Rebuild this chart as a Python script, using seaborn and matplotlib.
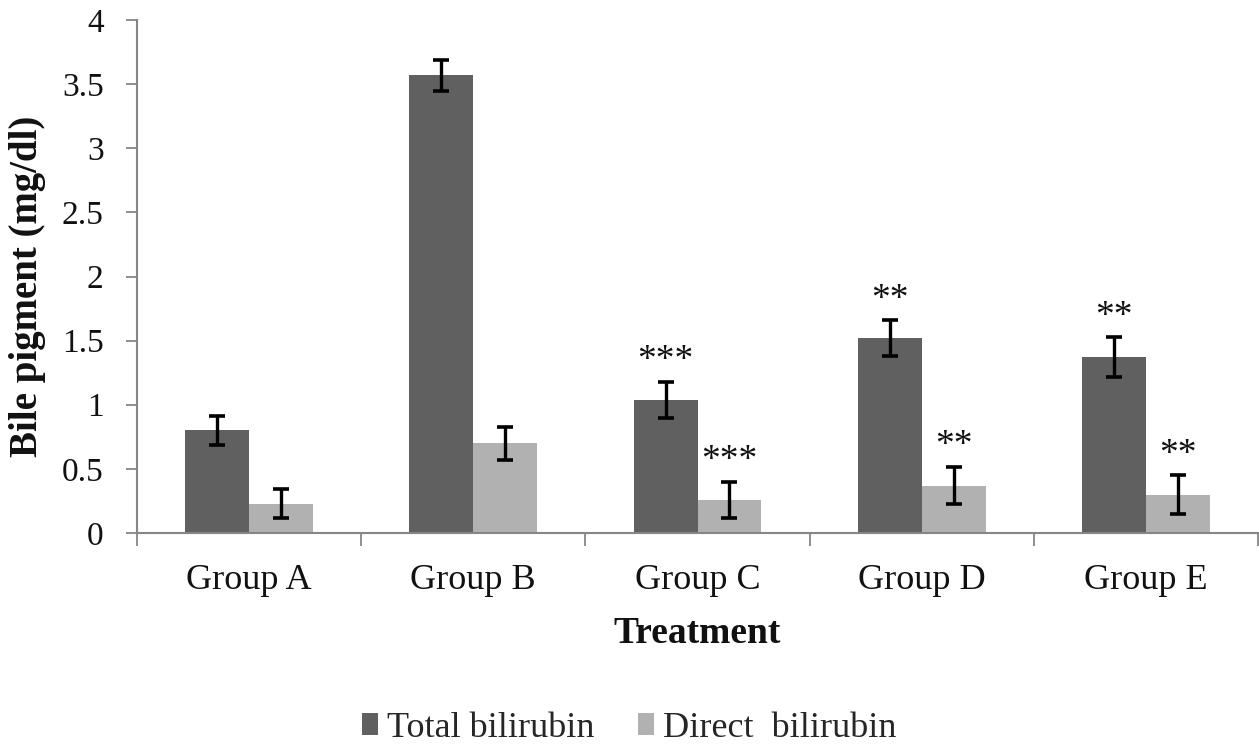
import numpy as np
import pandas as pd
import matplotlib
matplotlib.use("Agg")
import matplotlib.pyplot as plt
import seaborn as sns

# ---- data ----
groups = ["Group A", "Group B", "Group C", "Group D", "Group E"]
series = ["Total bilirubin", "Direct  bilirubin"]
total = [0.80, 3.57, 1.04, 1.52, 1.37]
total_err = [0.11, 0.12, 0.14, 0.14, 0.155]
direct = [0.23, 0.70, 0.26, 0.37, 0.30]
direct_err = [0.11, 0.13, 0.14, 0.145, 0.15]
total_sig = ["", "", "***", "**", "**"]
direct_sig = ["", "", "***", "**", "**"]
yticks = [0, 0.5, 1, 1.5, 2, 2.5, 3, 3.5, 4]
ytick_labels = ["0", "0.5", "1", "1.5", "2", "2.5", "3", "3.5", "4"]
colors = ["#606060", "#b1b1b1"]

df = pd.DataFrame({
    "Group": groups * 2,
    "Series": [series[0]] * len(groups) + [series[1]] * len(groups),
    "Value": total + direct,
})

sns.set_theme(style="ticks")
plt.rcParams["font.family"] = ["Liberation Serif", "DejaVu Serif"]

W, H = 1259, 746
fig = plt.figure(figsize=(W / 100, H / 100), dpi=100)
fig.patch.set_facecolor("white")
ax = fig.add_axes([137 / W, 1 - 533 / H, (1258 - 137) / W, (533 - 20) / H])

sns.barplot(data=df, x="Group", y="Value", hue="Series", palette=colors,
            width=0.57, gap=0, saturation=1, errorbar=None, linewidth=0, ax=ax)

for cont, errs, sigs in zip(ax.containers, [total_err, direct_err], [total_sig, direct_sig]):
    xs = [p.get_x() + p.get_width() / 2 for p in cont]
    hs = [p.get_height() for p in cont]
    ax.errorbar(xs, hs, yerr=errs, fmt="none", ecolor="black",
                elinewidth=2.4, capsize=5.5, capthick=2.6, zorder=5)
    for x, h, e, s in zip(xs, hs, errs, sigs):
        if s:
            ax.annotate(s, (x, h + e), xytext=(0, 15), textcoords="offset points",
                        ha="center", va="center", fontsize=27, color="#111111")

ax.set_ylim(0, 4)
ax.set_xlim(-0.5, len(groups) - 0.5)
ax.set_yticks(yticks)
ax.set_yticklabels(ytick_labels)
ax.set_xticks(np.arange(-0.5, len(groups), 1.0), minor=True)

spine_col = "#868686"
for s in ["top", "right"]:
    ax.spines[s].set_visible(False)
for s in ["left", "bottom"]:
    ax.spines[s].set_color(spine_col)
    ax.spines[s].set_linewidth(1.5)

ax.tick_params(axis="y", which="major", length=8, width=1.3, color=spine_col,
               direction="out", pad=16, labelsize=24, labelcolor="#111111")
ax.tick_params(axis="x", which="major", length=0, pad=22, labelsize=26, labelcolor="#111111")
ax.tick_params(axis="x", which="minor", length=9, width=1.3, color=spine_col, direction="out")

ax.set_xlabel("Treatment", fontsize=27, fontweight="bold", labelpad=14, color="#111111")
ax.set_ylabel("Bile pigment (mg/dl)", fontsize=28, fontweight="bold", color="#111111")
ax.yaxis.set_label_coords((46 - 137) / (1258 - 137), 0.48)

handles, labels = ax.get_legend_handles_labels()
if ax.get_legend() is not None:
    ax.get_legend().remove()
fig.legend(handles, labels, loc="lower center", bbox_to_anchor=(0.5, 0.002),
           ncol=2, frameon=False, fontsize=26, handlelength=0.45, handleheight=0.55,
           handletextpad=0.25, columnspacing=1.2, borderpad=0.0, borderaxespad=0.0)

fig.savefig("out.png", dpi=100, facecolor="white")
